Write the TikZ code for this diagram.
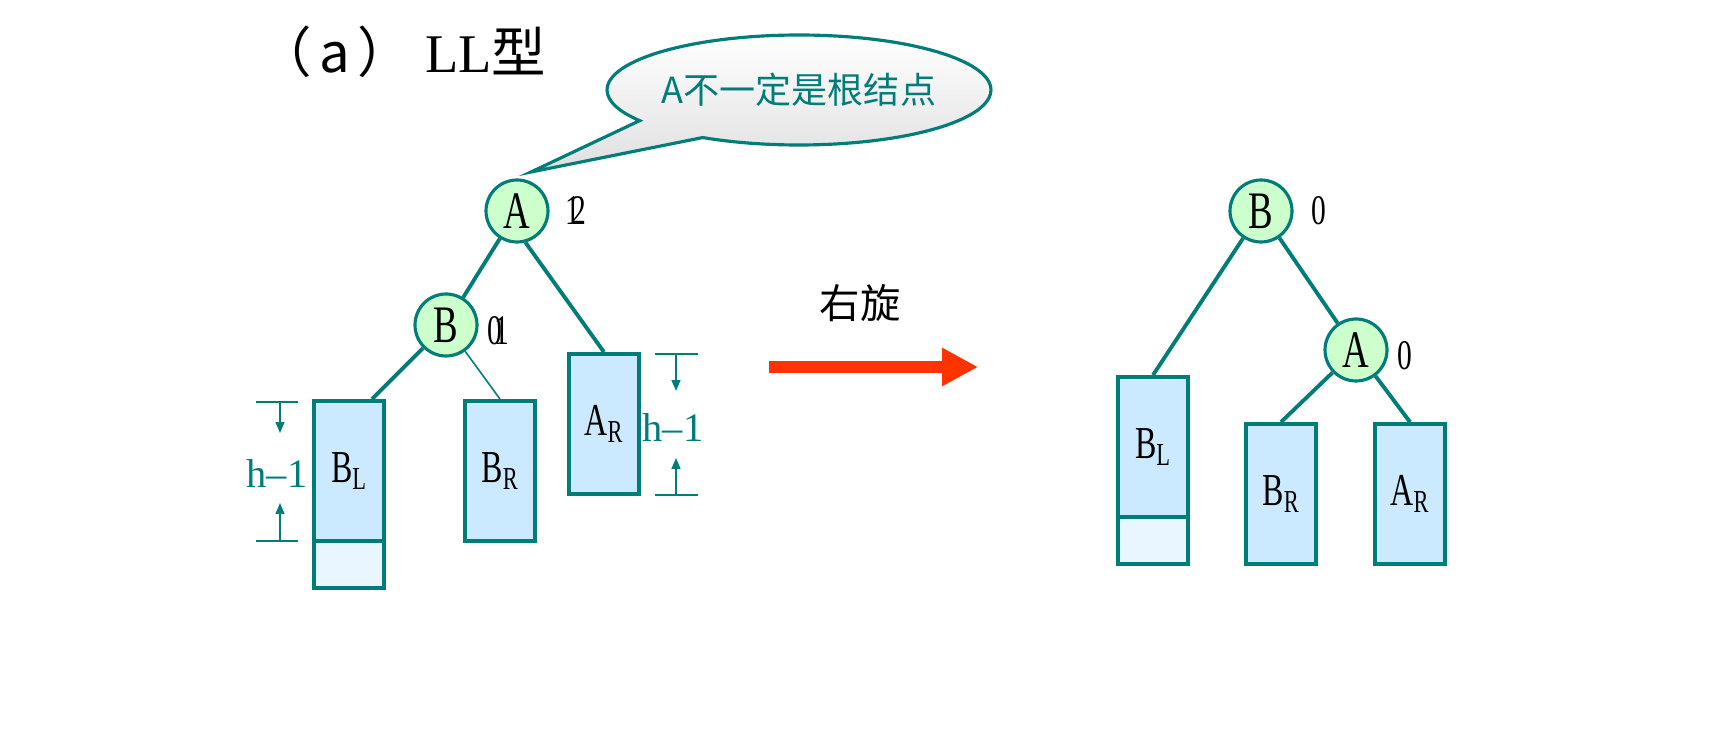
\documentclass[tikz,border=0pt]{standalone}
\usepackage{fontspec}
\setmainfont{Liberation Serif}
\newfontfamily\cjk{Noto Sans CJK SC}
\newfontfamily\narrow[FakeStretch=0.7]{Liberation Serif}
\usetikzlibrary{positioning,arrows.meta,shapes.callouts}
\definecolor{linecol}{RGB}{0,125,120}
\definecolor{nodegreen}{RGB}{204,255,204}
\definecolor{treeblue}{RGB}{204,234,255}
\definecolor{paleblue}{RGB}{234,246,255}
\definecolor{arrowred}{RGB}{255,51,0}
\begin{document}
\begin{tikzpicture}[x=0.02cm,y=-0.02cm,
  tnode/.style={circle,draw=linecol,fill=nodegreen,line width=1.8pt,minimum size=1.24cm,inner sep=0pt,font=\narrow\fontsize{30}{30}\selectfont},
  subtree/.style={rectangle,draw=linecol,fill=treeblue,line width=2.2pt,minimum width=1.4cm,minimum height=2.8cm,inner sep=0pt,font=\narrow\fontsize{26}{26}\selectfont},
  extra/.style={rectangle,draw=linecol,fill=paleblue,line width=2.2pt,minimum width=1.4cm,minimum height=0.94cm,inner sep=0pt,outer sep=0pt,anchor=north},
  bal/.style={font=\narrow\fontsize{24}{24}\selectfont},
  edge/.style={draw=linecol,line width=2.2pt},
  dimline/.style={draw=linecol,line width=0.8pt},
  dimarr/.style={draw=linecol,line width=0.8pt,-{Triangle[length=0.22cm,width=0.18cm]}},
  dimtext/.style={text=linecol,font=\fontsize{23}{23}\selectfont}
]
\useasboundingbox (0,0) rectangle (1717,739);
% title and callout
\node[font=\fontsize{31}{31}\selectfont] (title) at (402,52) {{\cjk （\kern4pt a\kern4pt ）} LL{\cjk 型}};
\coordinate (tip) at (531,172);
\node[ellipse callout,draw=linecol,line width=1.8pt,top color=white,bottom color=gray!25,
  minimum width=7.68cm,minimum height=2.2cm,inner sep=0pt,callout absolute pointer={(tip)},callout pointer arc=26,
  text=linecol,font=\cjk\fontsize{20.5}{20.5}\selectfont] (note) at (799,90) {\makebox[0pt]{A不一定是根结点}};
% left tree
\node[tnode] (A) at (517,211) {A};
\node[bal] (Abal) at (573,211) {1};
\node[bal] (Abal2) at (579,211) {2};
\node[tnode] (B) at (446,325) {B};
\node[bal] (Bbal) at (495,331) {0};
\node[bal] (Bbal2) at (502,331) {1};
\node[subtree] (BL) at (349,471) {B\textsubscript{L}};
\node[extra] (BLx) at ([yshift=1.1pt]BL.south) {};
\node[subtree] (BR) at (500,471) {B\textsubscript{R}};
\node[subtree] (AR) at (604,424) {A\textsubscript{R}};
\draw[edge] (A) -- (B);
\draw[edge] (A.-75) -- (AR.north);
\draw[edge] (B) -- ([xshift=0.46cm]BL.north);
\draw[draw=linecol,line width=0.9pt] (B) -- (BR.north);
% height marks
\coordinate (l1) at (256,402); \coordinate (l2) at (298,402);
\coordinate (l3) at (256,541); \coordinate (l4) at (298,541);
\draw[dimline] (l1) -- (l2);
\draw[dimline] (l3) -- (l4);
\node[dimtext] (hl) at (277,473) {h–1};
\coordinate (la) at (280,402); \coordinate (lb) at (280,433);
\coordinate (lc) at (280,541); \coordinate (ld) at (280,503);
\draw[dimarr] (la) -- (lb);
\draw[dimarr] (lc) -- (ld);
\coordinate (r1) at (655,354); \coordinate (r2) at (698,354);
\coordinate (r3) at (655,495); \coordinate (r4) at (698,495);
\draw[dimline] (r1) -- (r2);
\draw[dimline] (r3) -- (r4);
\node[dimtext] (hr) at (673,427) {h–1};
\coordinate (ra) at (676,354); \coordinate (rb) at (676,391);
\coordinate (rc) at (676,495); \coordinate (rd) at (676,458);
\draw[dimarr] (ra) -- (rb);
\draw[dimarr] (rc) -- (rd);
% rotation arrow
\node[font=\cjk\fontsize{23}{23}\selectfont] (rot) at (860,303) {右旋};
\coordinate (rs) at (769,367);
\coordinate (re) at (978,367);
\draw[arrowred,line width=6.3pt,-{Triangle[length=0.72cm,width=0.72cm]}] (rs) -- (re);
% right tree
\node[tnode] (B') at (1261,211) {B};
\node[bal] (B'bal) at (1319,211) {0};
\node[tnode] (A') at (1356,350) {A};
\node[bal] (A'bal) at (1405,356) {0};
\node[subtree] (BL') at (1153,447) {B\textsubscript{L}};
\node[extra] (BLx') at ([yshift=1.1pt]BL'.south) {};
\node[subtree] (BR') at (1281,494) {B\textsubscript{R}};
\node[subtree] (AR') at (1410,494) {A\textsubscript{R}};
\draw[edge] (B') -- (BL'.north);
\draw[edge] (B') -- (A');
\draw[edge] (A') -- (BR'.north);
\draw[edge] (A') -- (AR'.north);
\end{tikzpicture}
\end{document}
